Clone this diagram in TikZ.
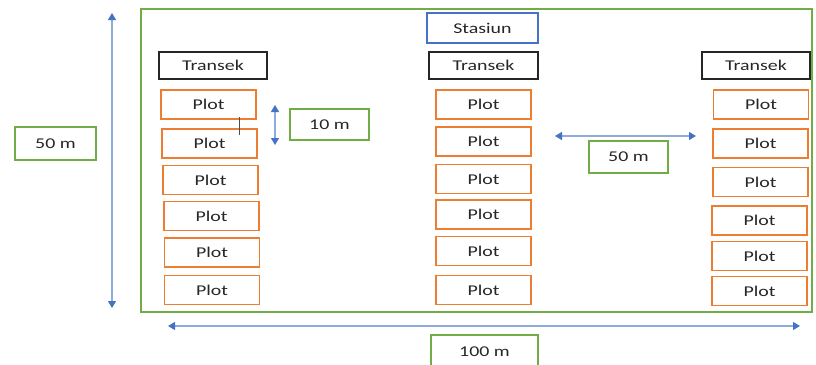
\documentclass[tikz,border=0pt]{standalone}
\usepackage{fontspec}
\setmainfont{Carlito}[FakeStretch=1.33]
\usetikzlibrary{arrows.meta}
\definecolor{grn}{HTML}{70AD47}
\definecolor{org}{HTML}{ED7D31}
\definecolor{blu}{HTML}{4472C4}
\definecolor{lblu}{HTML}{8FAADC}
\begin{document}
\begin{tikzpicture}[x=1bp,y=-1bp,
  box/.style={draw,line width=1.8bp,inner sep=0pt,font=\fontsize{15}{18}\selectfont,text=black!85},
  plotbox/.style={box,draw=org,minimum width=95bp,minimum height=29bp},
  transbox/.style={box,draw=black!85,minimum width=108bp,minimum height=27bp},
  dimbox/.style={box,draw=grn},
  dimarrow/.style={draw=lblu,line width=1.2bp,{Triangle[fill=blu,color=blu,length=7bp,width=8bp]}-{Triangle[fill=blu,color=blu,length=7bp,width=8bp]}}
]
\useasboundingbox (0,0) rectangle (816,364);
\clip (0,0) rectangle (816,364);
% field
\node[draw=grn,line width=1.8bp,minimum width=671bp,minimum height=303bp,inner sep=0pt] (field) at (476.5,160.5) {};
% dimension boxes
\node[dimbox,minimum width=81bp,minimum height=33bp] (d50a) at (55.5,143.5) {50 m};
\node[dimbox,minimum width=79bp,minimum height=31bp] (d10) at (329.5,124.5) {10 m};
\node[dimbox,minimum width=79bp,minimum height=32bp] (d50b) at (628.5,157) {50 m};
\node[dimbox,minimum width=107bp,minimum height=34bp] (d100) at (484.5,352) {100 m};
% station
\node[box,draw=blu,minimum width=111bp,minimum height=30bp] (st) at (482.5,28) {Stasiun};
% transects
\node[transbox] (tL) at (213,65.5) {Transek};
\node[transbox,minimum width=109bp] (tM) at (483.5,65.5) {Transek};
\node[transbox] (tR) at (756,65.5) {Transek};
% left plots
\node[plotbox] (l1) at (208.5,104.5) {Plot};
\node[plotbox] (l2) at (209.5,143.5) {Plot};
\node[plotbox] (l3) at (210.5,180) {Plot};
\node[plotbox] (l4) at (211.5,216) {Plot};
\node[plotbox] (l5) at (212,252.5) {Plot};
\node[plotbox] (l6) at (212,290) {Plot};
% middle plots
\node[plotbox] (m1) at (483.5,104.5) {Plot};
\node[plotbox] (m2) at (483.5,141.5) {Plot};
\node[plotbox] (m3) at (483.5,179) {Plot};
\node[plotbox] (m4) at (483.5,214.5) {Plot};
\node[plotbox] (m5) at (483.5,251) {Plot};
\node[plotbox] (m6) at (483.5,290) {Plot};
% right plots
\node[plotbox] (r1) at (761,104.5) {Plot};
\node[plotbox] (r2) at (760.5,143.5) {Plot};
\node[plotbox] (r3) at (760.5,182) {Plot};
\node[plotbox] (r4) at (759.5,220.5) {Plot};
\node[plotbox] (r5) at (759.5,256) {Plot};
\node[plotbox] (r6) at (759.5,291) {Plot};
% arrow endpoints
\coordinate (va1) at (112,13);
\coordinate (va2) at (112,308);
\coordinate (sa1) at (275,105);
\coordinate (sa2) at (275,145);
\coordinate (ha1) at (555,136);
\coordinate (ha2) at (696,136);
\coordinate (ba1) at (168,326);
\coordinate (ba2) at (800,326);
\coordinate (tk1) at (239,117);
\coordinate (tk2) at (239,135);
\draw[dimarrow] (va1) -- (va2);
\draw[dimarrow] (sa1) -- (sa2);
\draw[dimarrow] (ha1) -- (ha2);
\draw[dimarrow] (ba1) -- (ba2);
\draw[black!70,line width=1bp] (tk1) -- (tk2);
\end{tikzpicture}
\end{document}
